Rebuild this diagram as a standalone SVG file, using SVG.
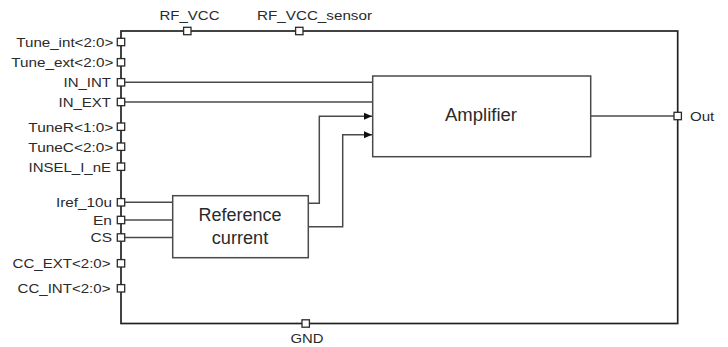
<svg xmlns="http://www.w3.org/2000/svg" width="728" height="347" viewBox="0 0 728 347">
<defs>
<style>
.frame{fill:none;stroke:#222;stroke-width:1.7}
.wire{fill:none;stroke:#4a4a4a;stroke-width:1.5}
.box{fill:#fff;stroke:#4a4a4a;stroke-width:1.5}
.pin{fill:#fff;stroke:#2a2a2a;stroke-width:1.3}
.lbl{font-family:"Liberation Sans",Arial,sans-serif;font-size:13.5px;fill:#2a2a2a}
.lr{text-anchor:end}
.mid{text-anchor:middle}
.big{font-family:"Liberation Sans",Arial,sans-serif;font-size:17.5px;fill:#2a2a2a;text-anchor:middle}
</style>
<marker id="arr" viewBox="0 0 8 8" refX="8" refY="4" markerWidth="8" markerHeight="8" markerUnits="userSpaceOnUse" orient="auto">
<path d="M0,0.5 L8,4 L0,7.5 z" fill="#111"/>
</marker>
</defs>
<rect width="728" height="347" fill="#fff"/>
<g id="frame">
<rect class="frame" x="121" y="31" width="556.7" height="292.5"/>
</g>
<g id="connectors">
<line class="wire" x1="124.5" y1="82.3" x2="372.7" y2="82.3"/>
<line class="wire" x1="124.5" y1="102" x2="372.7" y2="102"/>
<line class="wire" x1="124.5" y1="202.3" x2="172.7" y2="202.3"/>
<line class="wire" x1="124.5" y1="220" x2="172.7" y2="220"/>
<line class="wire" x1="124.5" y1="237.5" x2="172.7" y2="237.5"/>
<path class="wire" d="M308.3,203.3 H319.3 V116.3 H372" marker-end="url(#arr)"/>
<path class="wire" d="M308.3,226.7 H342.7 V134.7 H372" marker-end="url(#arr)"/>
<line class="wire" x1="590.7" y1="116" x2="674" y2="116"/>
</g>
<g id="amplifier">
<rect class="box" x="372.7" y="76" width="218" height="80.7"/>
<text class="big" x="481" y="121" textLength="72" lengthAdjust="spacingAndGlyphs">Amplifier</text>
</g>
<g id="reference-current">
<rect class="box" x="172.7" y="195.7" width="135.6" height="62"/>
<text class="big" x="240" y="221" textLength="83" lengthAdjust="spacingAndGlyphs">Reference</text>
<text class="big" x="240" y="243.5" textLength="56.5" lengthAdjust="spacingAndGlyphs">current</text>
</g>
<g id="pin-tune-int"><rect class="pin" x="117.3" y="38.3" width="7.4" height="7.4"/><text class="lbl lr" x="113.3" y="46.8" textLength="97" lengthAdjust="spacingAndGlyphs">Tune_int&lt;2:0&gt;</text></g>
<g id="pin-tune-ext"><rect class="pin" x="117.3" y="58.6" width="7.4" height="7.4"/><text class="lbl lr" x="113.3" y="67.1" textLength="102" lengthAdjust="spacingAndGlyphs">Tune_ext&lt;2:0&gt;</text></g>
<g id="pin-in-int"><rect class="pin" x="117.3" y="78.6" width="7.4" height="7.4"/><text class="lbl lr" x="111" y="87.1" textLength="47.5" lengthAdjust="spacingAndGlyphs">IN_INT</text></g>
<g id="pin-in-ext"><rect class="pin" x="117.3" y="98.3" width="7.4" height="7.4"/><text class="lbl lr" x="111" y="106.8" textLength="52.5" lengthAdjust="spacingAndGlyphs">IN_EXT</text></g>
<g id="pin-tuner"><rect class="pin" x="117.3" y="123" width="7.4" height="7.4"/><text class="lbl lr" x="113.3" y="131.5" textLength="85" lengthAdjust="spacingAndGlyphs">TuneR&lt;1:0&gt;</text></g>
<g id="pin-tunec"><rect class="pin" x="117.3" y="143" width="7.4" height="7.4"/><text class="lbl lr" x="113.3" y="151.5" textLength="85" lengthAdjust="spacingAndGlyphs">TuneC&lt;2:0&gt;</text></g>
<g id="pin-insel"><rect class="pin" x="117.3" y="163" width="7.4" height="7.4"/><text class="lbl lr" x="111" y="171.5" textLength="82.5" lengthAdjust="spacingAndGlyphs">INSEL_I_nE</text></g>
<g id="pin-iref"><rect class="pin" x="117.3" y="198.6" width="7.4" height="7.4"/><text class="lbl lr" x="112" y="207.1" textLength="56" lengthAdjust="spacingAndGlyphs">Iref_10u</text></g>
<g id="pin-en"><rect class="pin" x="117.3" y="216.3" width="7.4" height="7.4"/><text class="lbl lr" x="112" y="224.8" textLength="19" lengthAdjust="spacingAndGlyphs">En</text></g>
<g id="pin-cs"><rect class="pin" x="117.3" y="233.8" width="7.4" height="7.4"/><text class="lbl lr" x="112" y="242.3" textLength="21.5" lengthAdjust="spacingAndGlyphs">CS</text></g>
<g id="pin-cc-ext"><rect class="pin" x="117.3" y="259.6" width="7.4" height="7.4"/><text class="lbl lr" x="110.5" y="268.1" textLength="98" lengthAdjust="spacingAndGlyphs">CC_EXT&lt;2:0&gt;</text></g>
<g id="pin-cc-int"><rect class="pin" x="117.3" y="284.6" width="7.4" height="7.4"/><text class="lbl lr" x="110.5" y="293.1" textLength="93" lengthAdjust="spacingAndGlyphs">CC_INT&lt;2:0&gt;</text></g>
<g id="pin-rf-vcc"><rect class="pin" x="183.6" y="27.3" width="7.4" height="7.4"/><text class="lbl" x="159.5" y="19.6" textLength="60" lengthAdjust="spacingAndGlyphs">RF_VCC</text></g>
<g id="pin-rf-vcc-sensor"><rect class="pin" x="295.6" y="27.3" width="7.4" height="7.4"/><text class="lbl" x="257" y="19.6" textLength="115" lengthAdjust="spacingAndGlyphs">RF_VCC_sensor</text></g>
<g id="pin-gnd"><rect class="pin" x="302" y="319.8" width="7.4" height="7.4"/><text class="lbl mid" x="307" y="342.5" textLength="33" lengthAdjust="spacingAndGlyphs">GND</text></g>
<g id="pin-out"><rect class="pin" x="674" y="112.3" width="7.4" height="7.4"/><text class="lbl" x="690" y="121" textLength="24.3" lengthAdjust="spacingAndGlyphs">Out</text></g>
</svg>
